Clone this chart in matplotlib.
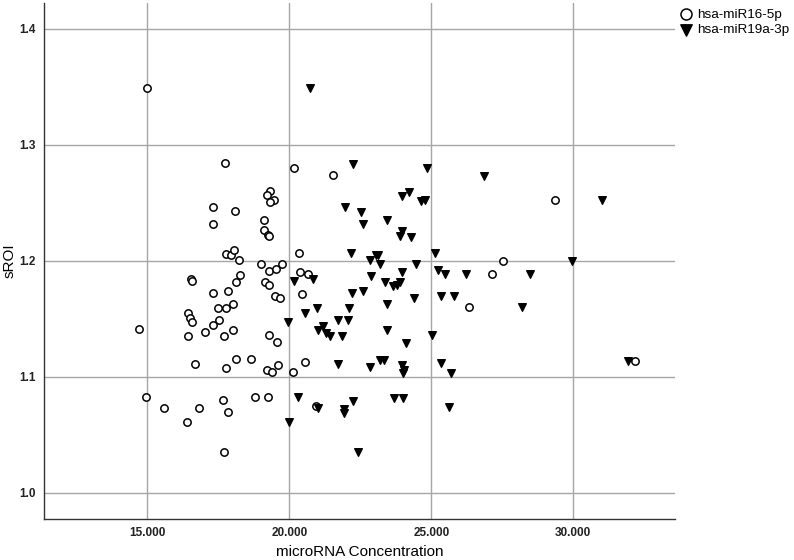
import numpy as np
import matplotlib
matplotlib.use("Agg")
import matplotlib.pyplot as plt
from matplotlib.ticker import FuncFormatter

plt.rcParams['font.family'] = ['Liberation Sans', 'DejaVu Sans']

# hsa-miR16-5p (open circles)
mir16_x = [15000, 17736, 20177, 21529, 19332, 19226, 19472, 19321, 17324, 18089,
           17314, 19099, 19099, 19261, 19296, 20353, 17761, 17948, 18053, 18240,
           18993, 19296, 19532, 19754, 20378, 20649, 16539, 16564, 18265, 18124,
           17831, 17324, 19134, 19286, 19508, 19673, 20448, 18019, 17490, 17771,
           16433, 16514, 16585, 17514, 17303, 17032, 18019, 17701, 16433, 14708,
           19296, 19578, 16690, 17771, 18124, 18641, 19614, 19226, 19391, 20120,
           20543, 14954, 15588, 16831, 17655, 17831, 16398, 17712, 18803, 19261,
           20930, 29357, 27516, 27137, 26340, 32175]
mir16_y = [1.349, 1.284, 1.280, 1.2735, 1.260, 1.257, 1.252, 1.251, 1.246, 1.243,
           1.232, 1.235, 1.2265, 1.222, 1.221, 1.207, 1.206, 1.205, 1.209, 1.201,
           1.1975, 1.191, 1.193, 1.197, 1.190, 1.189, 1.184, 1.183, 1.188, 1.182,
           1.174, 1.172, 1.1815, 1.179, 1.170, 1.168, 1.171, 1.163, 1.159, 1.159,
           1.155, 1.1505, 1.147, 1.149, 1.1445, 1.139, 1.1405, 1.1355, 1.1355, 1.141,
           1.136, 1.130, 1.1115, 1.108, 1.115, 1.115, 1.1105, 1.1055, 1.104, 1.104,
           1.113, 1.083, 1.0735, 1.073, 1.080, 1.070, 1.061, 1.035, 1.0825, 1.0825,
           1.0745, 1.2525, 1.200, 1.189, 1.160, 1.114]

# hsa-miR19a-3p (filled down triangles)
mir19_x = [20719, 22255, 21962, 22526, 22163, 20177, 20846, 22220, 20543, 20965,
           22114, 19966, 21022, 21283, 21434, 21198, 21705, 22078, 21846, 21705,
           20297, 21000, 21927, 21927, 22233, 19980, 22430, 24860, 26846, 31023,
           23980, 24227, 24638, 24779, 22586, 23452, 23980, 23899, 24297, 23054,
           23135, 22843, 23195, 24473, 25132, 29966, 22863, 23959, 23371, 23663,
           23783, 23899, 25237, 25484, 26213, 28477, 22586, 24382, 25332, 25811,
           28185, 23452, 23431, 24110, 25015, 22843, 23195, 23346, 23980, 24040,
           24015, 25332, 25706, 23688, 23994, 25635, 31939]
mir19_y = [1.349, 1.283, 1.246, 1.242, 1.207, 1.183, 1.184, 1.172, 1.155, 1.159,
           1.159, 1.147, 1.1405, 1.138, 1.135, 1.144, 1.149, 1.149, 1.135, 1.111,
           1.083, 1.0735, 1.0725, 1.069, 1.0795, 1.061, 1.035, 1.2795, 1.273, 1.252,
           1.256, 1.259, 1.2515, 1.252, 1.2315, 1.235, 1.226, 1.221, 1.2205, 1.205,
           1.205, 1.2005, 1.197, 1.197, 1.2065, 1.1995, 1.187, 1.190, 1.182, 1.178,
           1.179, 1.1815, 1.192, 1.189, 1.189, 1.1885, 1.174, 1.168, 1.1695, 1.170,
           1.160, 1.163, 1.140, 1.129, 1.136, 1.1085, 1.1145, 1.1145, 1.1105, 1.106,
           1.1035, 1.112, 1.103, 1.082, 1.082, 1.074, 1.114]

x_ticks = [15000, 20000, 25000, 30000]
y_ticks = [1.0, 1.1, 1.2, 1.3, 1.4]

fig = plt.figure(figsize=(7.94, 5.6), dpi=100)
ax = fig.add_axes([44 / 794, 1 - 519 / 560, 631 / 794, 516 / 560])

ax.scatter(mir16_x, mir16_y, s=28, facecolors='white', edgecolors='black',
           linewidths=1.1, marker='o', label='hsa-miR16-5p', zorder=3)
ax.scatter(mir19_x, mir19_y, s=30, color='black', marker='v',
           label='hsa-miR19a-3p', zorder=3)

ax.set_xlim(11362, 33580)
ax.set_ylim(0.9776, 1.422)
ax.set_xticks(x_ticks)
ax.set_yticks(y_ticks)
ax.xaxis.set_major_formatter(FuncFormatter(lambda v, p: f"{int(v):,}".replace(",", ".")))
ax.yaxis.set_major_formatter(FuncFormatter(lambda v, p: f"{v:.1f}"))
ax.tick_params(length=0, labelsize=8.5, colors='#222222', pad=6)
for lab in ax.get_xticklabels() + ax.get_yticklabels():
    lab.set_fontweight('bold')

ax.grid(True, color='#a6a6a6', linewidth=1.0, zorder=0)
ax.set_axisbelow(True)
for s in ['top', 'right']:
    ax.spines[s].set_visible(False)
for s in ['left', 'bottom']:
    ax.spines[s].set_color('#333333')
    ax.spines[s].set_linewidth(1.0)

ax.set_xlabel('microRNA Concentration', fontsize=11, labelpad=4)
ax.set_ylabel('sROI', fontsize=11, labelpad=2)

leg = fig.legend(loc='upper left', bbox_to_anchor=(670 / 794, 1.0), frameon=False,
                 fontsize=9.7, handletextpad=0.25, labelspacing=0.25,
                 borderaxespad=0.2, handlelength=1.2, markerscale=1.5)

fig.savefig('out.png', dpi=100)
